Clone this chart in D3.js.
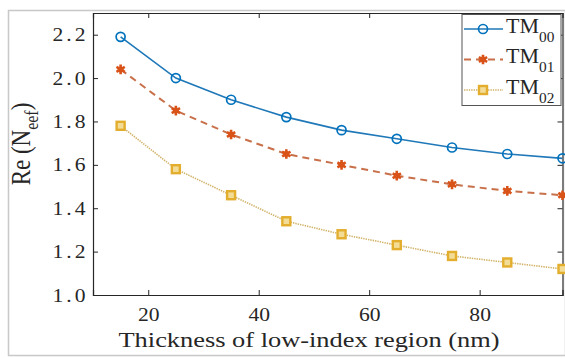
<!DOCTYPE html>
<html>
<head>
<meta charset="utf-8">
<script src="https://cdn.jsdelivr.net/npm/d3@7"></script>
<style>
  html, body { margin: 0; padding: 0; background: #fff; }
  svg { display: block; }
  text { font-family: "Liberation Serif", "Times New Roman", serif; fill: #262626; }
</style>
</head>
<body>
<svg id="chart" width="565" height="358"></svg>
<script>
// Thickness of the low-index region (nm)
const thickness = [15, 25, 35, 45, 55, 65, 75, 85, 95];
// Real part of the effective index for each mode
const tm00 = [2.19, 2.00, 1.90, 1.82, 1.76, 1.72, 1.68, 1.65, 1.63];
const tm01 = [2.04, 1.85, 1.74, 1.65, 1.60, 1.55, 1.51, 1.48, 1.46];
const tm02 = [1.78, 1.58, 1.46, 1.34, 1.28, 1.23, 1.18, 1.15, 1.12];
const seriesNames = ["00", "01", "02"];
const xTicks = [20, 40, 60, 80];
const yTicks = [1.0, 1.2, 1.4, 1.6, 1.8, 2.0, 2.2];

const svg = d3.select("#chart");
const W = 565, H = 358;
const m = { left: 93, right: 2.5, top: 13, bottom: 63 };
const SX = 1.2;            // horizontal stretch of the serif lettering

// outer figure frame
svg.append("rect")
  .attr("x", 8.5).attr("y", 10.5)
  .attr("width", W - 8).attr("height", 345)
  .attr("fill", "none").attr("stroke", "#c8c8c8").attr("stroke-width", 1.5);

const x = d3.scaleLinear().domain([10, 95]).range([m.left, W - m.right]);
const y = d3.scaleLinear().domain([1.0, 2.3]).range([H - m.bottom, m.top]);

const tickLen = 5;
const axisColor = "#262626";

// axes with inward ticks
const gB = svg.append("g").attr("transform", `translate(0,${y(1.0)})`)
  .call(d3.axisBottom(x).tickValues(xTicks).tickSize(-tickLen).tickFormat(d3.format("d")));
const gT = svg.append("g").attr("transform", `translate(0,${y(2.3)})`)
  .call(d3.axisTop(x).tickValues(xTicks).tickSize(-tickLen).tickFormat(""));
const gL = svg.append("g").attr("transform", `translate(${x(10)},0)`)
  .call(d3.axisLeft(y).tickValues(yTicks).tickSize(-tickLen).tickFormat(d3.format(".1f")));
const gR = svg.append("g").attr("transform", `translate(${x(95)},0)`)
  .call(d3.axisRight(y).tickValues(yTicks).tickSize(-tickLen).tickFormat(""));

[gB, gT, gL, gR].forEach(g => {
  g.select(".domain").attr("stroke", axisColor).attr("stroke-width", 1.2);
  g.selectAll(".tick line").attr("stroke", axisColor).attr("stroke-width", 1);
  g.selectAll("text").attr("font-size", 18).attr("fill", axisColor)
    .attr("transform", `scale(${SX},1)`);
});
gB.selectAll("text").attr("y", 13).attr("dy", "0.71em");
gL.selectAll("text").attr("x", -4.5 / SX).attr("letter-spacing", 2.5).attr("dy", "0.34em");

const series = [
  { key: "00", values: tm00, color: "#0072BD", line: "#1f78b8", dash: null, marker: "circle", width: 1.6 },
  { key: "01", values: tm01, color: "#D95319", line: "#c8704a", dash: "7,5", marker: "star", width: 2 },
  { key: "02", values: tm02, color: "#E3AE2E", line: "#d2b46a", dash: "1.4,1", marker: "square", width: 1.6 }
];

const line = d3.line().x(d => x(d[0])).y(d => y(d[1]));

function drawMarker(g, type, cx, cy, color) {
  if (type === "circle") {
    g.append("circle").attr("cx", cx).attr("cy", cy).attr("r", 4.5)
      .attr("fill", "none").attr("stroke", color).attr("stroke-width", 1.7);
  } else if (type === "square") {
    g.append("rect").attr("x", cx - 4).attr("y", cy - 4).attr("width", 8).attr("height", 8)
      .attr("fill", "#f3dc95").attr("stroke", color).attr("stroke-width", 2.4);
  } else {
    const s = d3.symbol().type(d3.symbolAsterisk).size(65);
    g.append("path").attr("d", s()).attr("transform", `translate(${cx},${cy})`)
      .attr("fill", "none").attr("stroke", color).attr("stroke-width", 2.6);
    g.append("circle").attr("cx", cx).attr("cy", cy).attr("r", 3).attr("fill", color);
  }
}

const plot = svg.append("g");
series.forEach(s => {
  const pts = thickness.map((t, i) => [t, s.values[i]]);
  plot.append("path").datum(pts).attr("d", line)
    .attr("fill", "none").attr("stroke", s.line).attr("stroke-width", s.width)
    .attr("stroke-dasharray", s.dash);
  const mg = plot.append("g");
  pts.forEach(p => drawMarker(mg, s.marker, x(p[0]), y(p[1]), s.color));
});

// axis titles
svg.append("text")
  .attr("transform", `scale(${SX},1)`)
  .attr("x", 309 / SX).attr("y", 347)
  .attr("text-anchor", "middle").attr("font-size", 22)
  .text("Thickness of low-index region (nm)");

const yl = svg.append("text")
  .attr("transform", `translate(30,${144})rotate(-90)scale(1,${SX})`)
  .attr("text-anchor", "middle").attr("font-size", 23);
yl.append("tspan").text("Re (N");
yl.append("tspan").attr("font-size", 16).attr("dy", 7).text("eef");
yl.append("tspan").attr("dy", -7).text(")");

// legend
const lg = svg.append("g");
const lx = 462, ly = 14.5, lw = 99, lh = 91;
lg.append("rect").attr("x", lx).attr("y", ly).attr("width", lw).attr("height", lh)
  .attr("fill", "#fff").attr("stroke", "#555").attr("stroke-width", 1);
series.forEach((s, i) => {
  const cy = 29 + i * 30.5;
  lg.append("line").attr("x1", lx + 2).attr("x2", lx + 41).attr("y1", cy).attr("y2", cy)
    .attr("stroke", s.line).attr("stroke-width", s.width).attr("stroke-dasharray", s.dash);
  drawMarker(lg, s.marker, lx + 21, cy, s.color);
  const t = lg.append("text").attr("transform", `scale(1.1,1)`)
    .attr("x", (lx + 44) / 1.1).attr("y", cy + 4).attr("font-size", 20);
  t.append("tspan").text("TM");
  t.append("tspan").attr("font-size", 14).attr("dy", 9).text(seriesNames[i]);
});
</script>
</body>
</html>
